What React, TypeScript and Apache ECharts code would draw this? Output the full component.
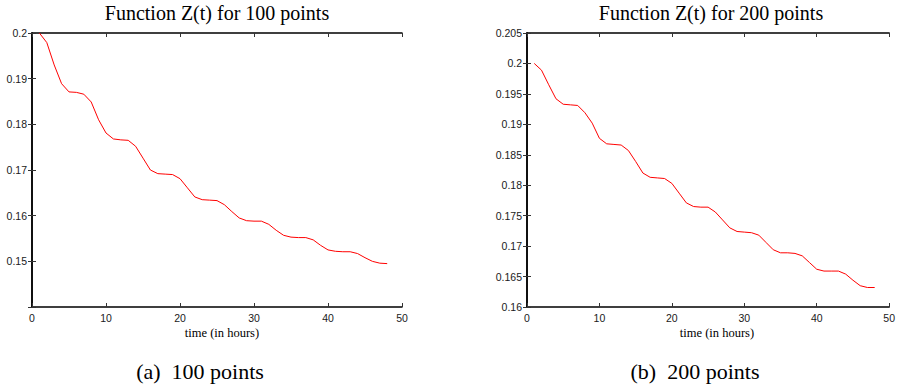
import React, { useEffect, useRef } from "react";
import * as echarts from "echarts";

const hours: number[] = Array.from({ length: 48 }, (_, i) => i + 1);

const z100: number[] = [
  0.2, 0.1979, 0.193, 0.1889, 0.1871, 0.187, 0.1866, 0.1849, 0.181, 0.1781,
  0.1768, 0.1766, 0.1765, 0.1752, 0.1726, 0.17, 0.1692, 0.1691, 0.169, 0.1681,
  0.1661, 0.1641, 0.1635, 0.1634, 0.1633, 0.1624, 0.1609, 0.1595, 0.1589, 0.1588,
  0.1588, 0.1581, 0.1568, 0.1557, 0.1553, 0.1552, 0.1552, 0.1547, 0.1535, 0.1525,
  0.1522, 0.1521, 0.1521, 0.1517, 0.1508, 0.15, 0.1496, 0.1495,
];

const z200: number[] = [
  0.2, 0.1989, 0.1965, 0.1942, 0.1933, 0.1932, 0.1931, 0.1919, 0.1902, 0.1877,
  0.1868, 0.1867, 0.1866, 0.1857, 0.1839, 0.182, 0.1813, 0.1812, 0.1811, 0.1803,
  0.1787, 0.1771, 0.1765, 0.1764, 0.1764, 0.1756, 0.1743, 0.173, 0.1724, 0.1723,
  0.1722, 0.1718, 0.1706, 0.1694, 0.1689, 0.1689, 0.1688, 0.1684, 0.1673, 0.1662,
  0.1659, 0.1659, 0.1659, 0.1654, 0.1644, 0.1635, 0.1632, 0.1632,
];

const titles: string[] = ["Function Z(t) for 100 points", "Function Z(t) for 200 points"];
const captions: string[] = ["(a)  100 points", "(b)  200 points"];
const xName = "time (in hours)";
const yRanges = [
  { min: 0.14, max: 0.2, interval: 0.01, hide: [0.14] },
  { min: 0.16, max: 0.205, interval: 0.005, hide: [] as number[] },
];

const grids = [
  { left: 32, top: 33, width: 370, height: 274 },
  { left: 527, top: 33, width: 369, height: 274 },
];

const SANS = "'Liberation Sans', Arial, Helvetica, sans-serif";
const SERIF = "'Liberation Serif', 'Times New Roman', serif";

export default function App() {
  const ref = useRef<HTMLDivElement>(null);

  useEffect(() => {
    if (!ref.current) return;
    const chart = echarts.init(ref.current, undefined, { renderer: "svg" });

    const axisLine = { show: true, lineStyle: { color: "#000", width: 1.5 } };
    const tick = { show: true, inside: true, length: 4, lineStyle: { color: "#333", width: 1 } };
    const labelStyle = { color: "#1a1a1a", fontFamily: SANS, fontSize: 10.5 };

    const xAxes: any[] = [];
    const yAxes: any[] = [];
    grids.forEach((g, i) => {
      xAxes.push({
        type: "value", gridIndex: i, position: "bottom", min: 0, max: 50, interval: 10,
        axisLine, axisTick: tick, splitLine: { show: false },
        axisLabel: { ...labelStyle, margin: 5 },
      });
      xAxes.push({
        type: "value", gridIndex: i, position: "top", min: 0, max: 50, interval: 10,
        axisLine, axisTick: tick, splitLine: { show: false }, axisLabel: { show: false },
      });
      const r = yRanges[i];
      yAxes.push({
        type: "value", gridIndex: i, position: "left", min: r.min, max: r.max, interval: r.interval,
        axisLine, axisTick: tick, splitLine: { show: false },
        axisLabel: {
          ...labelStyle, margin: 5,
          formatter: (v: number) =>
            r.hide.some((h) => Math.abs(h - v) < 1e-9) ? "" : String(+v.toFixed(3)),
        },
      });
      yAxes.push({
        type: "value", gridIndex: i, position: "right", min: r.min, max: r.max, interval: r.interval,
        axisLine, axisTick: tick, splitLine: { show: false }, axisLabel: { show: false },
      });
    });

    const seriesData = [z100, z200];
    const series = seriesData.map((d, i) => ({
      type: "line",
      xAxisIndex: i * 2,
      yAxisIndex: i * 2,
      data: hours.map((h, k) => [h, d[k]]),
      showSymbol: false,
      symbol: "none",
      lineStyle: { color: "#ff0000", width: 1 },
    }));

    const graphic: any[] = [];
    const titleX = [217, 711];
    const xNameX = [222, 717];
    const capX = [200, 695];
    [0, 1].forEach((i) => {
      graphic.push({
        type: "text", x: titleX[i], y: 13,
        style: { text: titles[i], font: `20px ${SERIF}`, fill: "#000", align: "center", verticalAlign: "middle" },
      });
      graphic.push({
        type: "text", x: xNameX[i], y: 333,
        style: { text: xName, font: `12.5px ${SERIF}`, fill: "#000", align: "center", verticalAlign: "middle" },
      });
      graphic.push({
        type: "text", x: capX[i], y: 371,
        style: { text: captions[i], font: `22px ${SERIF}`, fill: "#000", align: "center", verticalAlign: "middle" },
      });
    });

    chart.setOption({
      animation: false,
      backgroundColor: "#fff",
      grid: grids.map((g) => ({ ...g, containLabel: false })),
      xAxis: xAxes,
      yAxis: yAxes,
      series,
      graphic,
    });

    return () => chart.dispose();
  }, []);

  return (
    <div
      ref={ref}
      style={{ position: "fixed", left: 0, top: 0, width: 898, height: 390, background: "#fff" }}
    />
  );
}
